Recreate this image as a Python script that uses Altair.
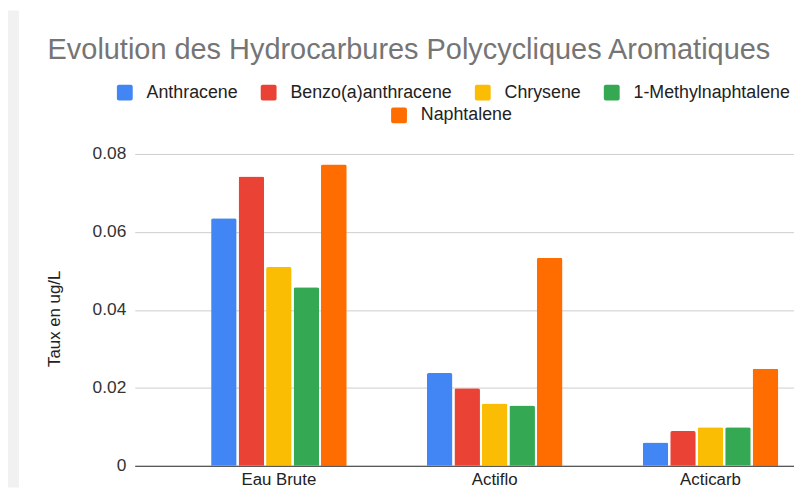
import altair as alt
import pandas as pd

title_text = "Evolution des Hydrocarbures Polycycliques Aromatiques"
y_title = "Taux en ug/L"
categories = ["Eau Brute", "Actiflo", "Acticarb"]
series = ["Anthracene", "Benzo(a)anthracene", "Chrysene", "1-Methylnaphtalene", "Naphtalene"]
colors = ["#4285f4", "#ea4335", "#fbbc04", "#34a853", "#ff6d01"]

anthracene = [0.0635, 0.0238, 0.0060]
benzo = [0.0742, 0.0199, 0.0089]
chrysene = [0.0510, 0.0160, 0.0099]
methylnaph = [0.0458, 0.0155, 0.0099]
naphtalene = [0.0773, 0.0533, 0.0249]

values = [anthracene, benzo, chrysene, methylnaph, naphtalene]
rows = []
for s, vals in zip(series, values):
    for c, v in zip(categories, vals):
        rows.append({"categorie": c, "serie": s, "taux": v})
df = pd.DataFrame(rows)

FONT = "Liberation Sans"
rounded = ("M-0.75,-1H0.75A0.25,0.25 0 0 1 1,-0.75V0.75A0.25,0.25 0 0 1 0.75,1"
           "H-0.75A0.25,0.25 0 0 1 -1,0.75V-0.75A0.25,0.25 0 0 1 -0.75,-1Z")

W, H = 666, 315
PL, PT, PB = 128, 145, 22
LFS = 18

x_enc = alt.X("categorie:N", sort=categories, title=None,
              scale=alt.Scale(paddingInner=0.372, paddingOuter=0.2135, align=0.829),
              axis=alt.Axis(labelFont=FONT, labelFontSize=17, labelColor="#222222",
                            labelPadding=6, ticks=False, tickSize=0, domainColor="#333333",
                            domainWidth=1, zindex=1, labelAngle=0))
xoff = alt.XOffset("serie:N", sort=series,
                   scale=alt.Scale(domain=series, paddingInner=0.07, paddingOuter=0))
y_enc = alt.Y("taux:Q", title=y_title,
              scale=alt.Scale(domain=[0, 0.08], nice=False),
              axis=alt.Axis(values=[0, 0.02, 0.04, 0.06, 0.08],
                            labelExpr="datum.value == 0 ? '0' : format(datum.value, '.2f')",
                            labelFont=FONT, labelFontSize=17.5, labelColor="#333333",
                            labelPadding=9, ticks=False, tickSize=0, domain=False,
                            gridColor="#cccccc", gridWidth=1,
                            titleFont=FONT, titleFontSize=17, titleFontWeight="normal",
                            titleColor="#222222", titleX=-81, titleY=166,
                            titleAlign="center", titleBaseline="middle", titleAngle=270))

strip = alt.Chart(alt.Data(values=[{"a": 1}])).mark_rect(color="#f1f1f1").encode(
    x=alt.value(-PL), x2=alt.value(-117), y=alt.value(-PT), y2=alt.value(H + PB))

bars = alt.Chart(df).mark_bar(cornerRadiusEnd=2).encode(
    x=x_enc, xOffset=xoff, y=y_enc,
    color=alt.Color("serie:N", sort=series,
                    scale=alt.Scale(domain=series, range=colors),
                    legend=alt.Legend(title=None, orient="none", direction="horizontal",
                                      values=series[:4], legendX=-19, legendY=-71,
                                      symbolType=rounded, symbolSize=256, symbolStrokeWidth=0,
                                      labelFont=FONT, labelFontSize=LFS, labelColor="#222222",
                                      labelOffset=13, columnPadding=21.3, padding=0,
                                      labelLimit=400)))

bars2 = alt.Chart(df[df["serie"] == "Naphtalene"]).mark_bar(cornerRadiusEnd=2).encode(
    x=x_enc, xOffset=xoff, y=y_enc,
    fill=alt.Fill("serie:N",
                  scale=alt.Scale(domain=["Naphtalene"], range=["#ff6d01"]),
                  legend=alt.Legend(title=None, orient="none", direction="horizontal",
                                    legendX=258, legendY=-48,
                                    symbolType=rounded, symbolSize=256, symbolStrokeWidth=0,
                                    labelFont=FONT, labelFontSize=LFS, labelColor="#222222",
                                    labelOffset=13, padding=0, labelLimit=400)))

chart = alt.layer(strip, bars, bars2).properties(
    width=W, height=H,
    autosize=alt.AutoSizeParams(type="none"),
    padding={"left": PL, "top": PT, "right": 0, "bottom": PB},
    background="white",
    title=alt.TitleParams(title_text, anchor="start", frame="group", dx=-88, offset=-78,
                          font=FONT, fontSize=29.2, fontWeight="normal", color="#757575",
                          baseline="alphabetic"),
).resolve_scale(color="independent").configure_view(strokeWidth=0)

chart.save("out.html", embed_options={"renderer": "svg", "actions": False})
